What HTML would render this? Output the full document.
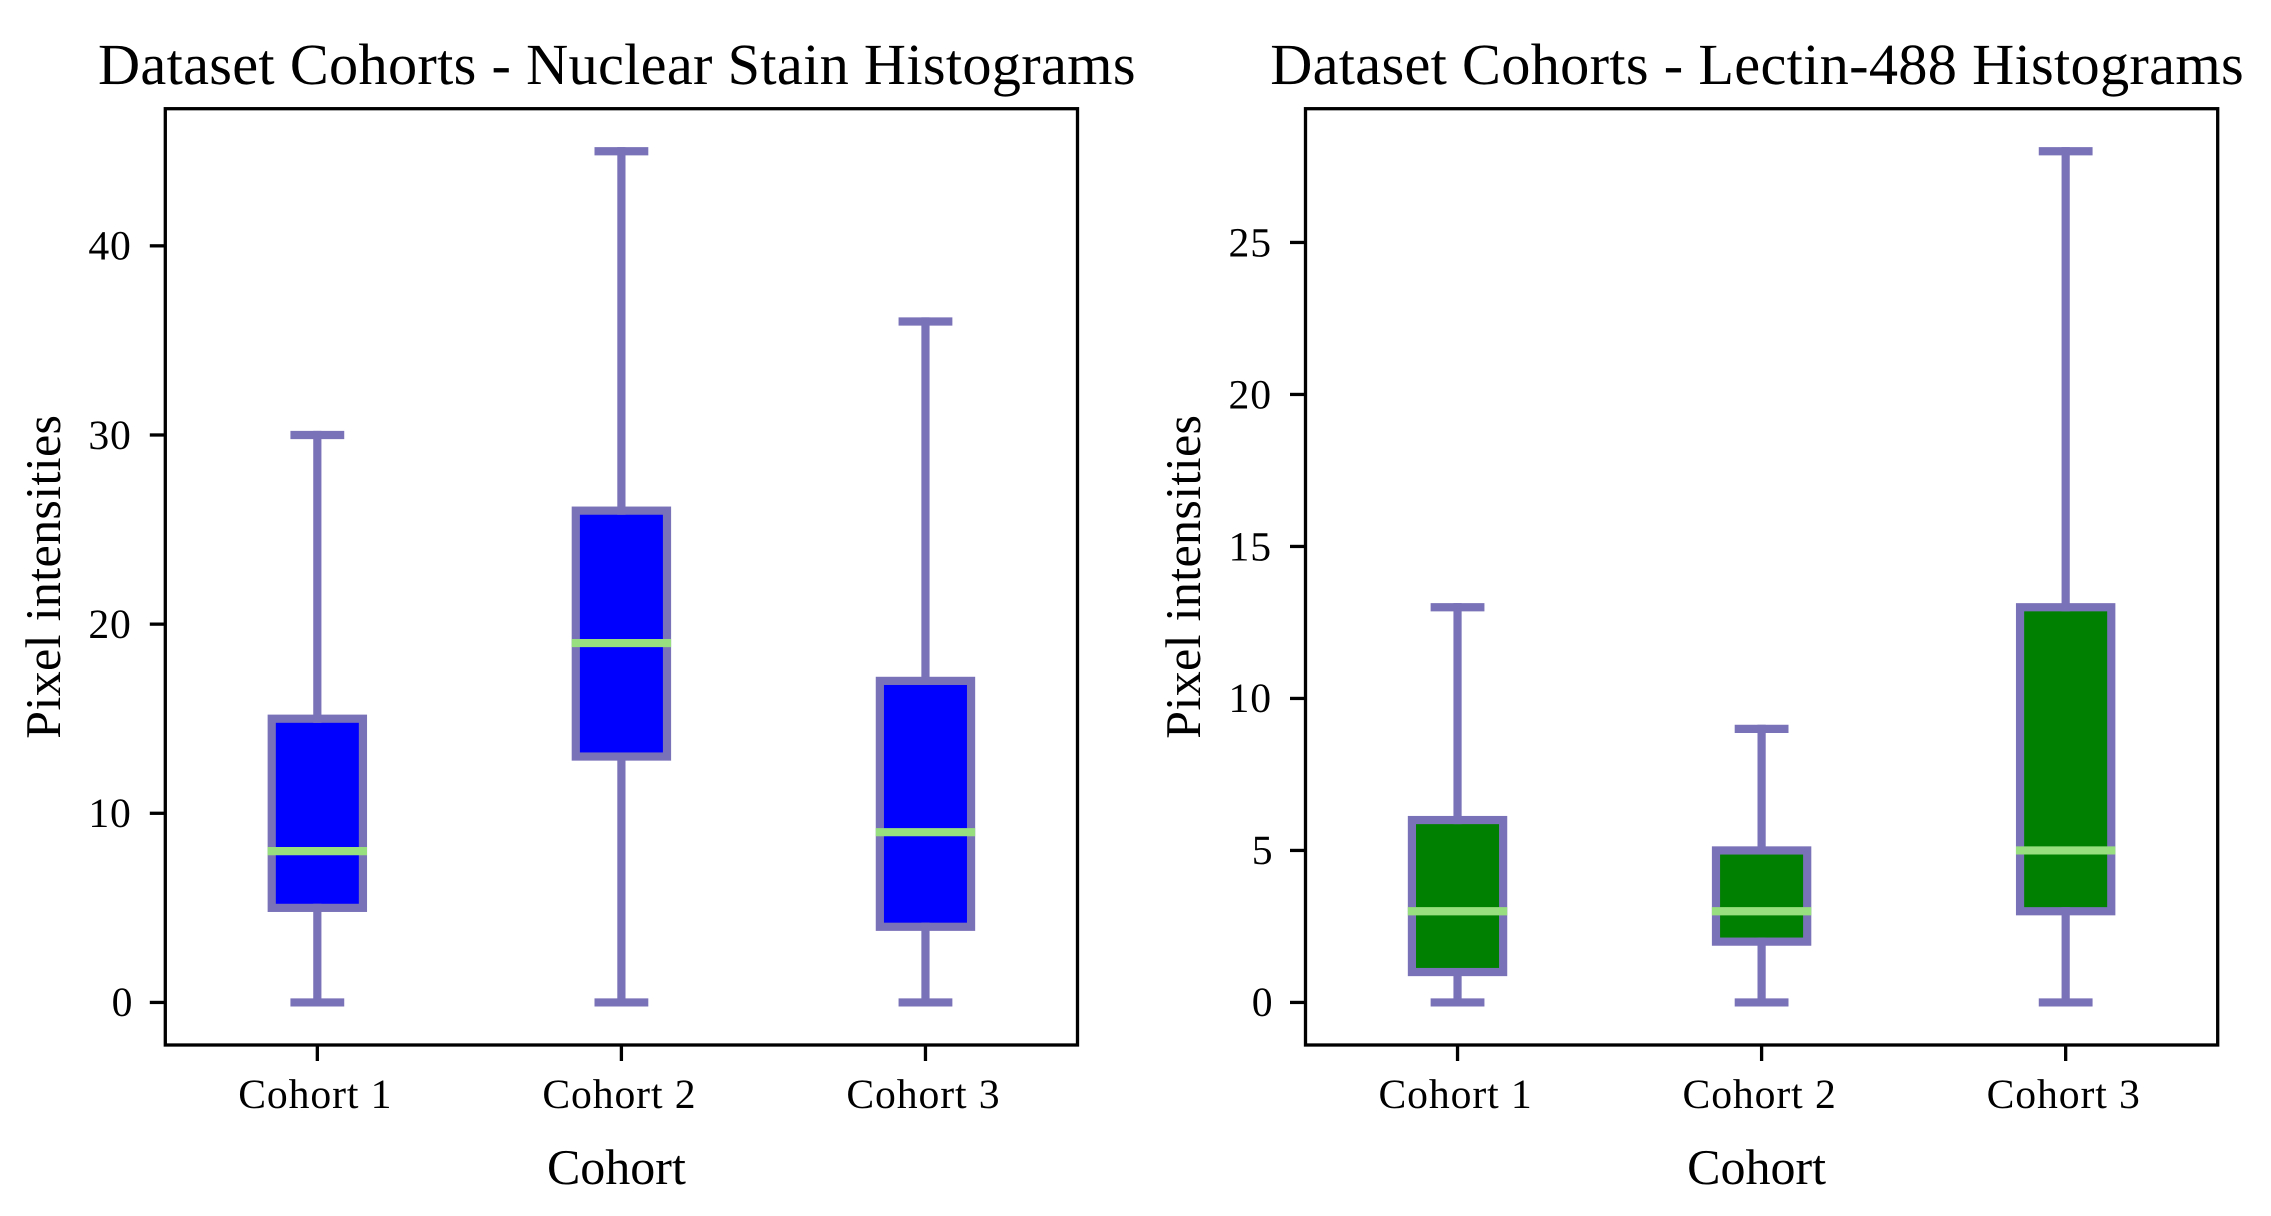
<!DOCTYPE html>
<html lang="en">
<head>
<meta charset="utf-8">
<title>Dataset Cohorts Box Plots</title>
<style>
html,body{margin:0;padding:0;background:#fff;width:2271px;height:1216px;overflow:hidden}
svg{display:block}
text{font-family:"Liberation Serif",serif;fill:#000;text-rendering:geometricPrecision}
</style>
</head>
<body>
<svg id="figure" xmlns="http://www.w3.org/2000/svg" width="2271" height="1216" viewBox="0 0 2271 1216">
<rect x="0" y="0" width="2271" height="1216" fill="#fff"/>
</svg>
<script>
const cohortLabels = ["Cohort 1", "Cohort 2", "Cohort 3"];

const nuclearWhiskerLow = [0, 0, 0];
const nuclearQ1 = [5, 13, 4];
const nuclearMedian = [8, 19, 9];
const nuclearQ3 = [15, 26, 17];
const nuclearWhiskerHigh = [30, 45, 36];
const nuclearTicks = [0, 10, 20, 30, 40];
const nuclearTitle = "Dataset Cohorts - Nuclear Stain Histograms";

const lectinWhiskerLow = [0, 0, 0];
const lectinQ1 = [1, 2, 3];
const lectinMedian = [3, 3, 5];
const lectinQ3 = [6, 5, 13];
const lectinWhiskerHigh = [13, 9, 28];
const lectinTicks = [0, 5, 10, 15, 20, 25];
const lectinTitle = "Dataset Cohorts - Lectin-488 Histograms";

const xAxisTitle = "Cohort";
const yAxisTitle = "Pixel intensities";

const svg = document.getElementById("figure");
const NS = "http://www.w3.org/2000/svg";
const EDGE = "#7a72b8";
const MEDIAN = "#98e07f";
const LW = 8.2;

function addLine(parent, x1, y1, x2, y2, stroke, width, cap) {
  const el = document.createElementNS(NS, "line");
  el.setAttribute("x1", x1);
  el.setAttribute("y1", y1);
  el.setAttribute("x2", x2);
  el.setAttribute("y2", y2);
  el.setAttribute("stroke", stroke);
  el.setAttribute("stroke-width", width);
  el.setAttribute("stroke-linecap", cap || "butt");
  parent.appendChild(el);
  return el;
}

function addText(parent, x, y, str, size, anchor, spacing) {
  const el = document.createElementNS(NS, "text");
  el.setAttribute("x", x);
  el.setAttribute("y", y);
  el.setAttribute("font-size", size);
  el.setAttribute("text-anchor", anchor);
  if (spacing) { el.setAttribute("letter-spacing", spacing); }
  el.textContent = str;
  parent.appendChild(el);
  return el;
}

function drawPanel(cfg) {
  const plotLeft = cfg.left, plotRight = cfg.left + 912.2, plotTop = 108.7, plotBottom = 1045;
  const xScale = function (pos) { return plotLeft + (pos - 0.5) / 3 * (plotRight - plotLeft); };
  const yScale = function (v) { return plotBottom - (v - cfg.yMin) / (cfg.yMax - cfg.yMin) * (plotBottom - plotTop); };

  const g = document.createElementNS(NS, "g");
  
  
  svg.appendChild(g);

  const title = addText(g, (plotLeft + plotRight) / 2 - 4.5, 84, cfg.title, 58.3, "middle", 0.31);
  
  

  cfg.labels.forEach(function (label, i) {
    const cx = xScale(i + 1);
    const halfBox = 0.15 * (plotRight - plotLeft) / 3;
    const halfCap = halfBox / 2;

    const box = document.createElementNS(NS, "g");
    
    
    g.appendChild(box);

    const rect = document.createElementNS(NS, "rect");
    rect.setAttribute("x", cx - halfBox);
    rect.setAttribute("y", yScale(cfg.q3[i]));
    rect.setAttribute("width", halfBox * 2);
    rect.setAttribute("height", yScale(cfg.q1[i]) - yScale(cfg.q3[i]));
    rect.setAttribute("fill", cfg.fill);
    rect.setAttribute("stroke", EDGE);
    rect.setAttribute("stroke-width", LW);
    
    
    box.appendChild(rect);

    const whiskerHigh = addLine(box, cx, yScale(cfg.q3[i]), cx, yScale(cfg.high[i]), EDGE, LW, "square");
    
    

    const whiskerLow = addLine(box, cx, yScale(cfg.q1[i]), cx, yScale(cfg.low[i]), EDGE, LW, "square");
    
    

    const capHigh = addLine(box, cx - halfCap, yScale(cfg.high[i]), cx + halfCap, yScale(cfg.high[i]), EDGE, LW, "square");
    
    

    const capLow = addLine(box, cx - halfCap, yScale(cfg.low[i]), cx + halfCap, yScale(cfg.low[i]), EDGE, LW, "square");
    
    

    const med = addLine(box, cx - halfBox, yScale(cfg.median[i]), cx + halfBox, yScale(cfg.median[i]), MEDIAN, LW, "square");
    
    

    const tick = addLine(g, cx, plotBottom, cx, plotBottom + 16, "#000", 3.3);
    
    

    const tickLabel = addText(g, cx - 2, 1108, label, 41.67, "middle", 0.9);
    
    
  });

  cfg.ticks.forEach(function (t) {
    const y = yScale(t);
    const tick = addLine(g, plotLeft - 15.5, y, plotLeft, y, "#000", 3.3);
    
    

    const labelGap = t < 10 ? 32 : 33.5;
    const tickLabel = addText(g, plotLeft - labelGap, y + 13.8, String(t), 41.67, "end", 0.9);
    
    
  });

  const frame = document.createElementNS(NS, "rect");
  frame.setAttribute("x", plotLeft);
  frame.setAttribute("y", plotTop);
  frame.setAttribute("width", plotRight - plotLeft);
  frame.setAttribute("height", plotBottom - plotTop);
  frame.setAttribute("fill", "none");
  frame.setAttribute("stroke", "#000");
  frame.setAttribute("stroke-width", 3.3);
  
  
  g.appendChild(frame);

  const xTitle = addText(g, (plotLeft + plotRight) / 2 - 5, 1184, xAxisTitle, 50, "middle");
  
  

  const yx = plotLeft - 105.5;
  const yTitle = addText(g, yx, 576.7, yAxisTitle, 50, "middle", 0.35);
  yTitle.setAttribute("transform", "rotate(-90 " + yx + " 576.7)");
  
  
}

drawPanel({
  name: "nuclear-stain",
  left: 165.3,
  title: nuclearTitle,
  labels: cohortLabels,
  low: nuclearWhiskerLow,
  q1: nuclearQ1,
  median: nuclearMedian,
  q3: nuclearQ3,
  high: nuclearWhiskerHigh,
  ticks: nuclearTicks,
  fill: "#0000ff",
  yMin: -2.25,
  yMax: 47.25
});

drawPanel({
  name: "lectin-488",
  left: 1305.5,
  title: lectinTitle,
  labels: cohortLabels,
  low: lectinWhiskerLow,
  q1: lectinQ1,
  median: lectinMedian,
  q3: lectinQ3,
  high: lectinWhiskerHigh,
  ticks: lectinTicks,
  fill: "#008000",
  yMin: -1.4,
  yMax: 29.4
});
</script>
</body>
</html>
